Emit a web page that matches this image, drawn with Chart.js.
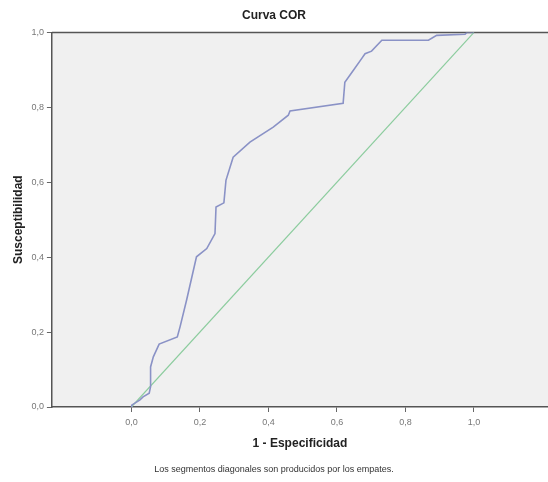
<!DOCTYPE html>
<html>
<head>
<meta charset="utf-8">
<script src="https://cdn.jsdelivr.net/npm/chart.js@4.4.1/dist/chart.umd.min.js"></script>
<style>
  html, body { margin: 0; padding: 0; background: #fff; }
  #wrap { width: 548px; height: 482px; }
</style>
</head>
<body>
<div id="wrap"><canvas id="rocChart"></canvas></div>
<script>
// curva COR
const rocX = [0, 0.001, 0.025, 0.034, 0.052, 0.056, 0.056, 0.064, 0.081, 0.134, 0.142, 0.161, 0.190, 0.220, 0.244, 0.247, 0.270, 0.276, 0.297, 0.346, 0.414, 0.458, 0.463, 0.618, 0.623, 0.648, 0.672, 0.682, 0.701, 0.731, 0.867, 0.891, 0.974, 0.979, 1.0];
const rocY = [0, 0.005, 0.019, 0.027, 0.037, 0.054, 0.107, 0.134, 0.168, 0.187, 0.214, 0.285, 0.401, 0.423, 0.463, 0.534, 0.545, 0.605, 0.667, 0.707, 0.747, 0.779, 0.790, 0.811, 0.867, 0.899, 0.930, 0.943, 0.950, 0.979, 0.979, 0.992, 0.995, 1.0, 1.0];
const refX = [0, 1];
const refY = [0, 1];
const xTicks = [0, 0.2, 0.4, 0.6, 0.8, 1.0];
const yTicks = [0, 0.2, 0.4, 0.6, 0.8, 1.0];

function toPoints(xs, ys) {
    return xs.map((x, i) => ({ x: x, y: ys[i] }));
}
function fmt(v) {
    return v.toFixed(1).replace('.', ',');
}

const plotBackground = {
    id: 'plotBackground',
    beforeDraw(chart) {
        const a = chart.chartArea;
        const ctx = chart.ctx;
        ctx.save();
        ctx.fillStyle = '#f0f0f0';
        ctx.fillRect(a.left, a.top, a.right - a.left, a.bottom - a.top);
        ctx.strokeStyle = '#555';
        ctx.lineWidth = 1.5;
        ctx.beginPath();
        ctx.moveTo(a.left, a.top);
        ctx.lineTo(a.right, a.top);
        ctx.stroke();
        ctx.restore();
    }
};

Chart.defaults.font.family = '"Liberation Sans", Arial, sans-serif';

new Chart(document.getElementById('rocChart'), {
    type: 'scatter',
    data: {
        datasets: [{
            label: 'Curva',
            data: toPoints(rocX, rocY),
            showLine: true,
            borderColor: '#8a92c6',
            borderWidth: 1.6,
            pointRadius: 0,
            tension: 0
        }, {
            label: 'Referencia',
            data: toPoints(refX, refY),
            showLine: true,
            borderColor: '#8ccc9e',
            borderWidth: 1.2,
            pointRadius: 0
        }]
    },
    options: {
        responsive: true,
        maintainAspectRatio: false,
        animation: false,
        layout: { padding: { left: 0, right: 0, top: 0, bottom: 0 } },
        scales: {
            x: {
                type: 'linear',
                min: -0.232,
                max: 1.216,
                afterBuildTicks: axis => { axis.ticks = xTicks.map(v => ({ value: v })); },
                ticks: {
                    callback: v => fmt(v),
                    color: '#777',
                    font: { size: 9 },
                    padding: 5,
                    maxRotation: 0
                },
                grid: { drawOnChartArea: false, drawTicks: true, tickLength: 5, color: '#666' },
                border: { display: true, color: '#555', width: 1.5 },
                title: {
                    display: true,
                    text: '1 - Especificidad',
                    font: { size: 12, weight: 'bold' },
                    color: '#222',
                    padding: { top: 4, bottom: 5 }
                }
            },
            y: {
                type: 'linear',
                min: 0,
                max: 1,
                afterBuildTicks: axis => { axis.ticks = yTicks.map(v => ({ value: v })); },
                ticks: {
                    callback: v => fmt(v),
                    color: '#777',
                    font: { size: 9 },
                    padding: 3
                },
                grid: { drawOnChartArea: false, drawTicks: true, tickLength: 5, color: '#666' },
                border: { display: true, color: '#555', width: 1.5 },
                title: {
                    display: true,
                    text: 'Susceptibilidad',
                    font: { size: 12, weight: 'bold' },
                    color: '#222',
                    padding: { top: 11, bottom: 3 }
                }
            }
        },
        plugins: {
            legend: { display: false },
            tooltip: { enabled: false },
            title: {
                display: true,
                text: 'Curva COR',
                font: { size: 12, weight: 'bold' },
                color: '#222',
                padding: { top: 8, bottom: 10 }
            },
            subtitle: {
                display: true,
                position: 'bottom',
                text: 'Los segmentos diagonales son producidos por los empates.',
                font: { size: 9 },
                color: '#333',
                padding: { top: 8, bottom: 7 }
            }
        }
    },
    plugins: [plotBackground]
});
</script>
</body>
</html>
